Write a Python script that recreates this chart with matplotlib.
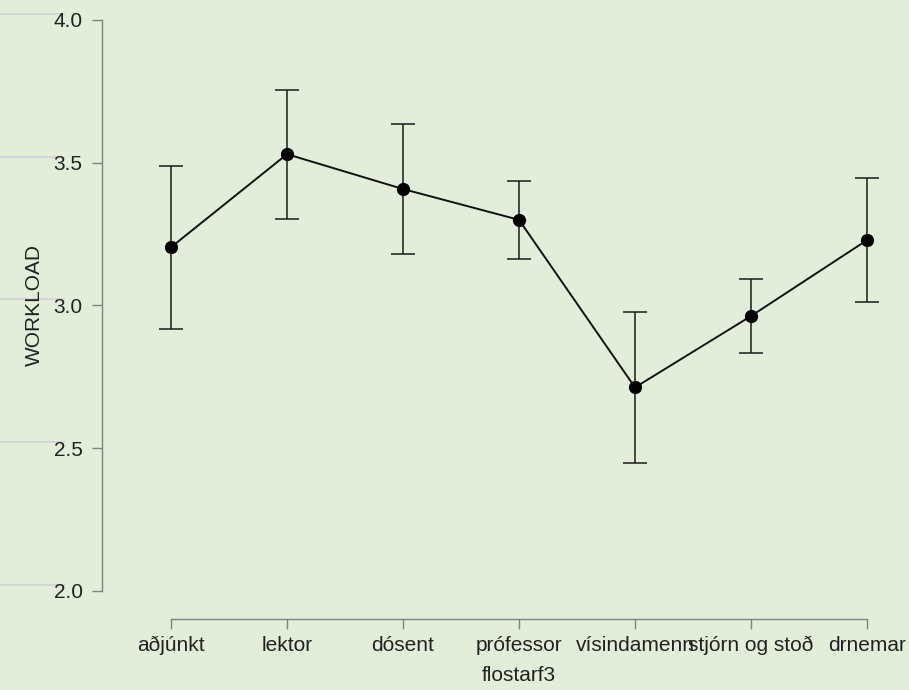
import matplotlib
matplotlib.use("Agg")
import matplotlib.pyplot as plt
import matplotlib.transforms as mtransforms

plt.rcParams['font.family'] = ['Liberation Sans', 'DejaVu Sans']

categories = ["aðjúnkt", "lektor", "dósent", "prófessor", "vísindamenn",
              "stjórn og stoð", "drnemar"]
means = [3.204, 3.530, 3.408, 3.300, 2.713, 2.963, 3.229]
upper = [3.490, 3.755, 3.636, 3.436, 2.978, 3.093, 3.446]
lower = [2.918, 3.303, 3.180, 3.162, 2.449, 2.833, 3.013]
yticks = [2.0, 2.5, 3.0, 3.5, 4.0]
ylabels = ["2.0", "2.5", "3.0", "3.5", "4.0"]

bg = "#e2eed9"
W, H = 909, 690
fig = plt.figure(figsize=(W / 100, H / 100), dpi=100, facecolor=bg)

left, right, top, bottom = 102, 880, 15, 619
ax = fig.add_axes([left / W, 1 - bottom / H, (right - left) / W, (bottom - top) / H])
ax.set_facecolor(bg)

x = list(range(len(categories)))
err_lo = [m - l for m, l in zip(means, lower)]
err_hi = [u - m for m, u in zip(means, upper)]

ax.errorbar(x, means, yerr=[err_lo, err_hi], fmt="none", ecolor="#1a1a1a",
            elinewidth=1.1, capsize=8.3, capthick=1.1, zorder=2)
ax.plot(x, means, color="#111111", linewidth=1.4, marker="o",
        markersize=8.5, markerfacecolor="black", markeredgecolor="black", zorder=3)

unit = 116.0
ax.set_xlim(-(171 - left) / unit, 6 + (right - 867) / unit)
ppu = 285.5
ax.set_ylim(2.0 - (bottom - 591) / ppu, 4.0 + (20 - top) / ppu)

for s in ["top", "right"]:
    ax.spines[s].set_visible(False)
ax.spines["left"].set_bounds(2.0, 4.0)
ax.spines["bottom"].set_bounds(0, 6)
for s in ["left", "bottom"]:
    ax.spines[s].set_color("#808080")
    ax.spines[s].set_linewidth(1.0)

ax.set_yticks(yticks)
ax.set_yticklabels(ylabels)
ax.set_xticks(x)
ax.set_xticklabels(categories)
ax.tick_params(axis="y", length=7, width=1.0, color="#808080", pad=7,
               labelsize=15, labelcolor="#222222")
ax.tick_params(axis="x", length=7, width=1.0, color="#808080", pad=5,
               labelsize=15, labelcolor="#222222")

ax.set_ylabel("WORKLOAD", fontsize=15, color="#222222", labelpad=7)
ax.set_xlabel("flostarf3", fontsize=15, color="#222222", labelpad=8)

# center the axis titles on the spans covered by the spines
mid_x = (0 + 6) / 2
mid_y = (2.0 + 4.0) / 2
x0, x1 = ax.get_xlim()
y0, y1 = ax.get_ylim()
ax.xaxis.label.set_x((mid_x - x0) / (x1 - x0))
ax.yaxis.label.set_y((mid_y - y0) / (y1 - y0))

# faint guide stubs at the left edge, level with the y ticks
trans = mtransforms.blended_transform_factory(fig.transFigure, ax.transData)
shift = mtransforms.ScaledTranslation(0, 6 / 100, fig.dpi_scale_trans)
for v in yticks:
    fig.add_artist(plt.Line2D([0, 64 / W], [v, v], transform=trans + shift,
                              color="#d4d6dc", linewidth=1.5, zorder=0))

fig.savefig("out.png", dpi=100, facecolor=bg)
